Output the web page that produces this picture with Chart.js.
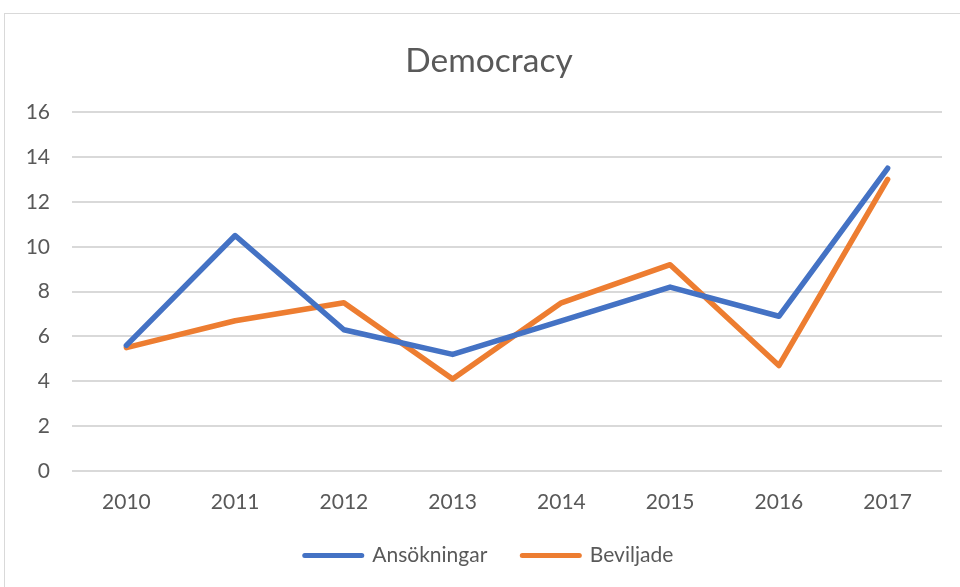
<!DOCTYPE html>
<html>
<head>
<meta charset="utf-8">
<script src="https://cdn.jsdelivr.net/npm/chart.js@4"></script>
<style>
  html, body { margin: 0; padding: 0; background: #fff; overflow: hidden; width: 960px; height: 587px; }
  #frame { position: absolute; left: 4px; top: 13px; width: 968px; height: 600px; border: 1px solid #d9d9d9; background: #fff; }
  #c { display: block; }
</style>
</head>
<body>
<div id="frame"><canvas id="c" width="968" height="580"></canvas></div>
<script>
const categories = ['2010', '2011', '2012', '2013', '2014', '2015', '2016', '2017'];
const ansokningar = [5.6, 10.5, 6.3, 5.2, 6.7, 8.2, 6.9, 13.5];
const beviljade = [5.5, 6.7, 7.5, 4.1, 7.5, 9.2, 4.7, 13.0];
const seriesNames = ['Ansökningar', 'Beviljade'];
const chartTitle = 'Democracy';

const FONT = 'Lato, "Open Sans", sans-serif';
const TXT = '#595959';

new Chart(document.getElementById('c'), {
  type: 'line',
  data: {
    labels: categories,
    datasets: [
      { label: seriesNames[0], data: ansokningar, borderColor: '#4472C4', backgroundColor: '#4472C4',
        borderWidth: 5.5, pointRadius: 0, tension: 0, borderCapStyle: 'round', borderJoinStyle: 'round' },
      { label: seriesNames[1], data: beviljade, borderColor: '#ED7D31', backgroundColor: '#ED7D31',
        borderWidth: 5.5, pointRadius: 0, tension: 0, borderCapStyle: 'round', borderJoinStyle: 'round' }
    ]
  },
  options: {
    responsive: false,
    animation: false,
    layout: { padding: { top: 27, left: 0, right: 0, bottom: 18 } },
    plugins: {
      title: { display: true, text: chartTitle, color: TXT, font: { family: FONT, size: 33.5, weight: 'normal' }, padding: { top: 0, bottom: 31 } },
      legend: {
        position: 'bottom',
        labels: {
          color: TXT, font: { family: FONT, size: 21 }, padding: 35,
          usePointStyle: true, pointStyle: 'line', pointStyleWidth: 57,
          generateLabels(chart) {
            return chart.data.datasets.map((ds, i) => ({
              text: ds.label, fillStyle: ds.borderColor, strokeStyle: ds.borderColor,
              lineWidth: 5, lineCap: 'round', pointStyle: 'line', datasetIndex: i, hidden: false, fontColor: TXT
            }));
          }
        }
      },
      tooltip: { enabled: false }
    },
    scales: {
      x: {
        offset: true,
        grid: { display: false, drawTicks: false },
        border: { display: false },
        ticks: { color: TXT, font: { family: FONT, size: 21 }, padding: 19, maxRotation: 0 },
        afterFit(s) { s.height = 39; }
      },
      y: {
        min: 0, max: 16,
        grid: { color: '#d9d9d9', lineWidth: 2, drawTicks: false },
        border: { display: false },
        ticks: { stepSize: 2, color: TXT, font: { family: FONT, size: 21 }, padding: 22 },
        afterFit(s) { s.width = 67; }
      },
      yRight: {
        position: 'right',
        display: true,
        grid: { display: false, drawTicks: false },
        border: { display: false },
        ticks: { display: false },
        afterFit(s) { s.width = 31; }
      }
    }
  }
});
</script>
</body>
</html>
